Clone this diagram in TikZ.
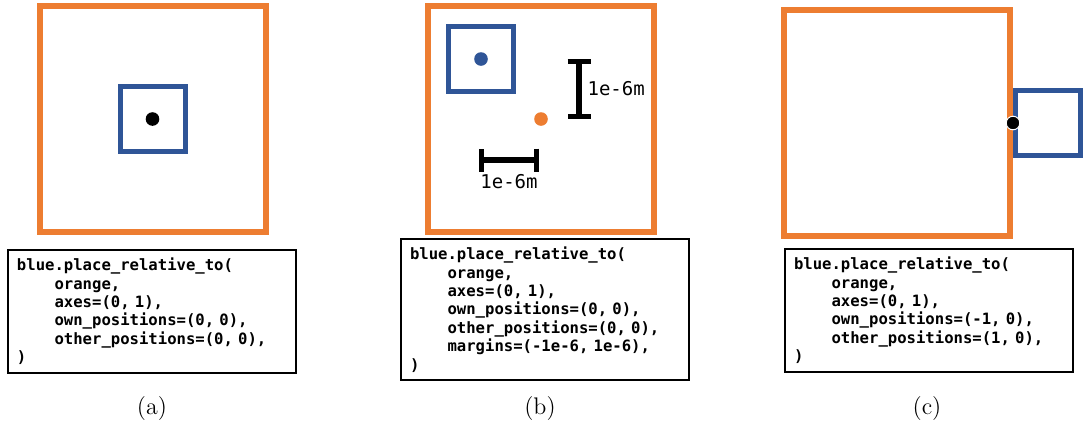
\documentclass[tikz,border=0pt]{standalone}
\usepackage{fontspec}
\usepackage{tikz}
\usetikzlibrary{arrows.meta, positioning}
\newfontfamily\codefont{DejaVu Sans Mono}
\definecolor{frameorange}{RGB}{237, 125, 49}
\definecolor{frameblue}{RGB}{47, 85, 151}
\newcommand{\codeind}{\phantom{xxxx}}
\tikzset{
  outerbox/.style={rectangle, draw=frameorange, line width=3pt,
              minimum size=113pt, inner sep=0pt},
  innerbox/.style={rectangle, draw=frameblue, line width=2.5pt,
              minimum size=32.5pt, inner sep=0pt},
  anchordot/.style={circle, fill=#1, minimum size=6.8pt, inner sep=0pt},
  anchordot/.default=black,
  codebox/.style={rectangle, draw=black, line width=1pt, text width=#1,
              align=left, inner xsep=4.5pt, inner ysep=4pt, anchor=north west,
              font=\codefont\bfseries\fontsize{7.8}{9.2}\selectfont},
  codebox/.default=135pt,
  subcaption/.style={font=\fontsize{12}{14}\selectfont},
  scalebar/.style={{Bar[width=11.5pt]}-{Bar[width=11.5pt]}, line width=2.6pt},
  scalelabel/.style={font=\codefont\fontsize{9.5}{11}\selectfont, inner sep=2pt},
}

\begin{document}
\begin{tikzpicture}[x=0.5pt, y=-0.5pt]
  \useasboundingbox (0,0) rectangle (1083,425);

  \node[outerbox] (orangeA) at (152.5,119) {};
  \node[innerbox] (blueA) at (orangeA.center) {};
  \node[anchordot] (dotA) at (blueA.center) {};
  \node[codebox] (codeA) at (7,249) {blue.place\_relative\_to(\\
    \codeind orange,\\
    \codeind axes=(0, 1),\\
    \codeind own\_positions=(0, 0),\\
    \codeind other\_positions=(0, 0),\\
    )};
  \node[subcaption] (capA) at (152,409) {(a)};

  \node[outerbox] (orangeB) at (541,119) {};
  \node[innerbox] (blueB) at (481,59) {};
  \node[anchordot=frameblue] (dotB) at (blueB.center) {};
  \node[anchordot=frameorange] (dotOrangeB) at (orangeB.center) {};
  \coordinate (vtop) at (579,59);
  \coordinate (vbot) at (579,119);
  \draw[scalebar] (vtop) -- node[scalelabel, right=1pt] {1e-6m} (vbot);
  \coordinate (hleft) at (479,160);
  \coordinate (hright) at (539,160);
  \draw[scalebar] (hleft) -- node[scalelabel, below=4pt] {1e-6m} (hright);
  \node[codebox] (codeB) at (400,238) {blue.place\_relative\_to(\\
    \codeind orange,\\
    \codeind axes=(0, 1),\\
    \codeind own\_positions=(0, 0),\\
    \codeind other\_positions=(0, 0),\\
    \codeind margins=(-1e-6, 1e-6),\\
    )};
  \node[subcaption] (capB) at (540,409) {(b)};

  \node[outerbox] (orangeC) at (897,123) {};
  \node[innerbox, right=0pt of orangeC] (blueC) {};
  \node[anchordot, draw=white, line width=0.5pt] (dotC) at (orangeC.east) {};
  \node[codebox] (codeC) at (784,248) {blue.place\_relative\_to(\\
    \codeind orange,\\
    \codeind axes=(0, 1),\\
    \codeind own\_positions=(-1, 0),\\
    \codeind other\_positions=(1, 0),\\
    )};
  \node[subcaption] (capC) at (927,409) {(c)};
\end{tikzpicture}
\end{document}
